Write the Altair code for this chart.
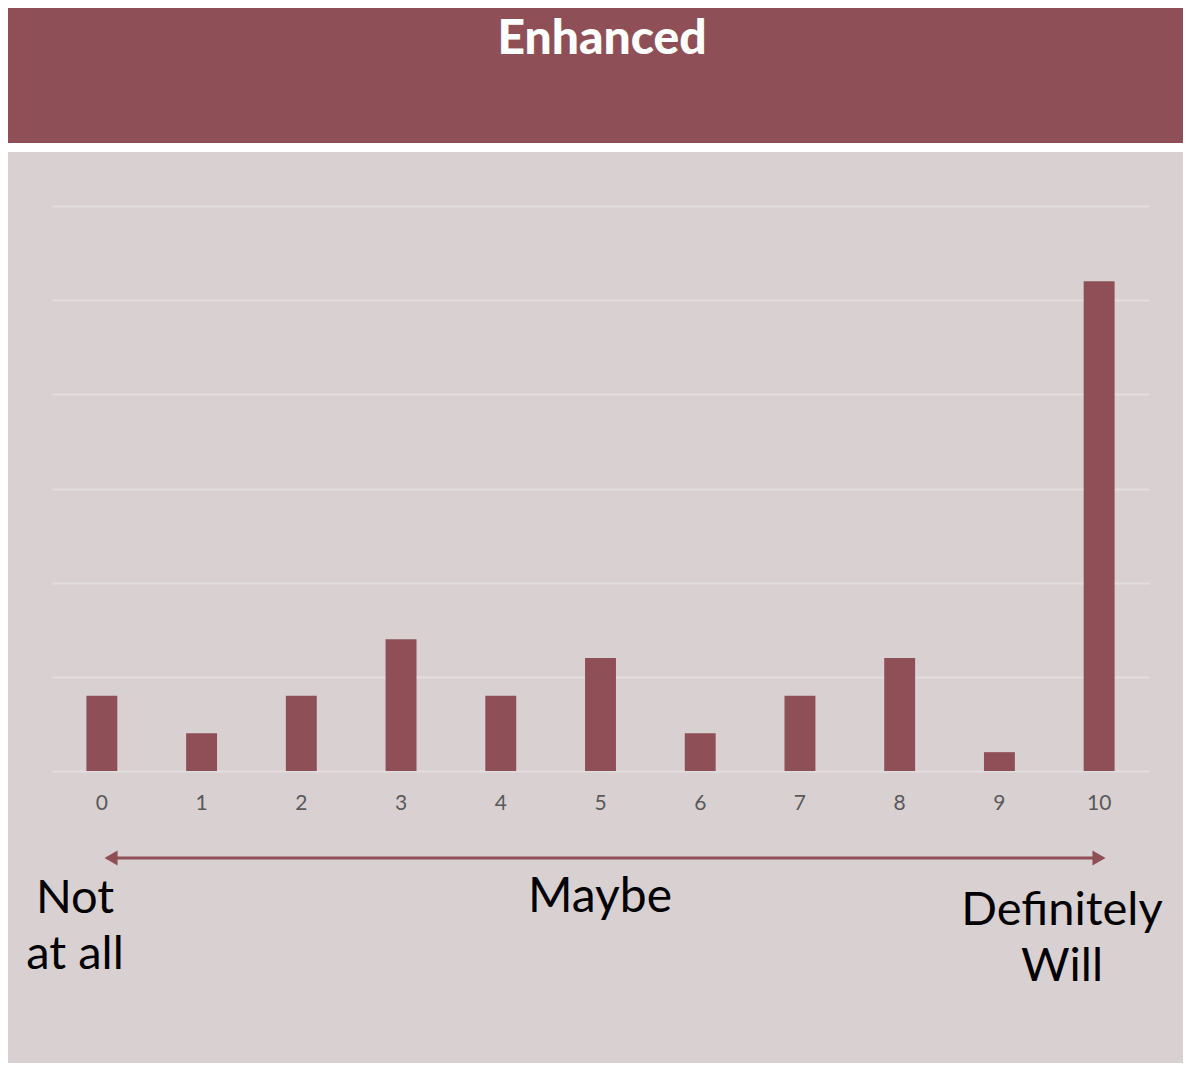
import altair as alt
import pandas as pd

scores = ["0", "1", "2", "3", "4", "5", "6", "7", "8", "9", "10"]
counts = [4, 2, 4, 7, 4, 6, 2, 4, 6, 1, 26]
grid_values = [0, 5, 10, 15, 20, 25, 30]
title_text = "Enhanced"
left_label = ["Not", "at all"]
mid_label = "Maybe"
right_label = ["Definitely", "Will"]

MAROON = "#8E4F57"
PANEL = "#D9D0D2"
FONT = "Lato"

df = pd.DataFrame({"score": scores, "count": counts})
one = pd.DataFrame({"k": [0]})

bars = alt.Chart(df).mark_bar(color=MAROON).encode(
    x=alt.X(
        "score:N",
        sort=scores,
        scale=alt.Scale(paddingInner=0.69, paddingOuter=0.345),
        axis=alt.Axis(
            title=None, labelAngle=0, labelFontSize=21, labelColor="#595959",
            labelFont=FONT, labelPadding=21, ticks=False, domain=False, grid=False,
        ),
    ),
    y=alt.Y(
        "count:Q",
        scale=alt.Scale(domain=[0, 30]),
        axis=alt.Axis(
            title=None, labels=False, ticks=False, domain=False,
            values=grid_values, grid=True, gridColor="#E2DEDE", gridWidth=2,
        ),
    ),
)

header = alt.Chart(one).mark_rect(color=MAROON).encode(
    x=alt.value(-44), x2=alt.value(1131), y=alt.value(-198), y2=alt.value(-63)
)
gap = alt.Chart(one).mark_rect(color="white").encode(
    x=alt.value(-44), x2=alt.value(1131), y=alt.value(-63), y2=alt.value(-54)
)
title = alt.Chart(one).mark_text(
    text=title_text, font=FONT, fontWeight=900, fontSize=48, color="white",
    align="center", baseline="middle",
).encode(x=alt.value(550), y=alt.value(-166))

arrow_line = alt.Chart(one).mark_rule(color=MAROON, strokeWidth=3).encode(
    x=alt.value(59), x2=alt.value(1047), y=alt.value(652)
)
arrow_left = alt.Chart(one).mark_point(
    shape="triangle-left", filled=True, size=230, color=MAROON, opacity=1
).encode(x=alt.value(59), y=alt.value(652))
arrow_right = alt.Chart(one).mark_point(
    shape="triangle-right", filled=True, size=230, color=MAROON, opacity=1
).encode(x=alt.value(1047), y=alt.value(652))

txt_left = alt.Chart(one).mark_text(
    text=left_label, font=FONT, fontSize=47, color="black", align="center",
    baseline="middle", lineHeight=56,
).encode(x=alt.value(23), y=alt.value(693))
txt_mid = alt.Chart(one).mark_text(
    text=mid_label, font=FONT, fontSize=48, color="black", align="center",
    baseline="middle",
).encode(x=alt.value(548), y=alt.value(692))
txt_right = alt.Chart(one).mark_text(
    text=right_label, font=FONT, fontSize=47, color="black", align="center",
    baseline="middle", lineHeight=56,
).encode(x=alt.value(1010), y=alt.value(705))

chart = alt.layer(
    header, gap, title, bars, arrow_line, arrow_left, arrow_right,
    txt_left, txt_mid, txt_right,
).properties(
    width=1097,
    height=565,
    padding={"left": 44, "top": 198, "right": 34, "bottom": 292},
    autosize=alt.AutoSizeParams(type="none"),
    background=PANEL,
).configure_view(strokeWidth=0)

chart.save("out.html", embed_options={"renderer": "svg", "actions": False})
